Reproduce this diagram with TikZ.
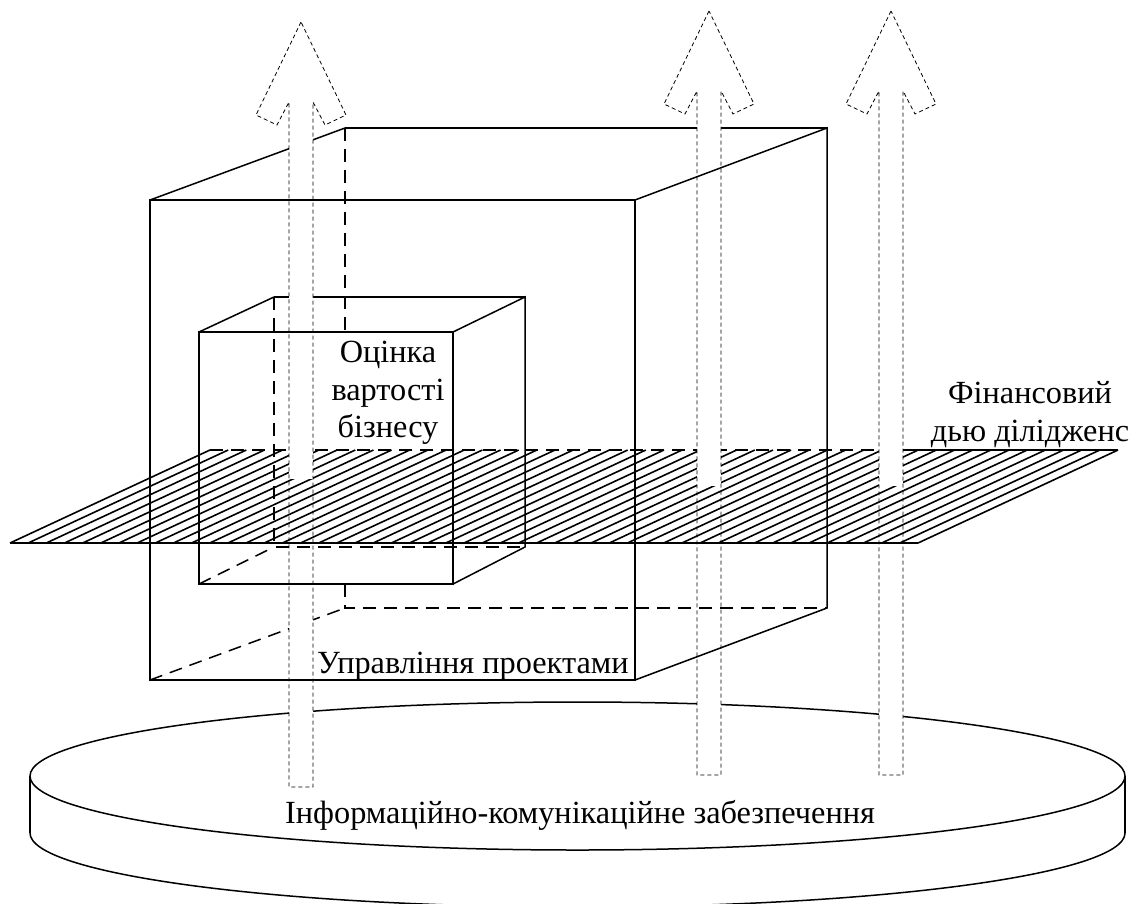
\documentclass[tikz,border=0pt]{standalone}
\usepackage{fontspec}
\setmainfont{Liberation Serif}
\begin{document}
\begin{tikzpicture}[x=1pt,y=-1pt,
  edge/.style={line width=1.5pt, line cap=butt},
  hidden/.style={line width=1.5pt, dash pattern=on 13pt off 8pt},
  hatchline/.style={line width=1.6pt},
  arrowline/.style={line width=0.8pt, dash pattern=on 4pt off 3pt},
  lbl/.style={font=\fontsize{32.3}{38}\selectfont, inner sep=0pt}]
\useasboundingbox (0,0) rectangle (1132,903);
% ---- disk (information & communication support)
\begin{scope}
  \clip (0,0) rectangle (1132,903);
  \draw[edge] (577.5,776) ellipse [x radius=547.5, y radius=74];
  \draw[edge] (30,776) -- (30,833);
  \draw[edge] (1125,776) -- (1125,833);
  \draw[edge] (30,833) arc[start angle=180, end angle=0, x radius=547.5, y radius=74];
\end{scope}
% ---- lines lying behind the arrows
\draw[edge] (345,128) -- (827,128);
\draw[edge] (150,200) -- (345,128);
\draw[edge] (274,297) -- (525,297);
\draw[hidden] (150,680) -- (345,608);
% ---- arrow bodies (white)
\foreach \tx/\ty/\by in {301/22/787, 709/11/775, 891/11/775}{
  \fill[white] (\tx,\ty) -- ({\tx-45},{\ty+93}) -- ({\tx-24},{\ty+103}) -- ({\tx-12},{\ty+80})
     -- ({\tx-12},\by) -- ({\tx+12},\by) -- ({\tx+12},{\ty+80}) -- ({\tx+24},{\ty+103})
     -- ({\tx+45},{\ty+93}) -- cycle;
}
% ---- hatched plane
\foreach \k in {0,...,50}{
  \draw[hatchline] ({10+18.16*\k},543) -- ({210+18.16*\k},450);
}
\draw[edge] (10,543) -- (918,543);
\draw[hidden] (210,450) -- (879,450);
\draw[edge] (903,450) -- (1118,450);
% arrows pierce the plane
\fill[white] (289,448) rectangle (313,479);
\fill[white] (697,448) rectangle (721,486);
\fill[white] (879,448) rectangle (903,486);
% ---- large box
\draw[edge] (150,200) rectangle (635,680);
\draw[edge] (635,200) -- (827,128) -- (827,608) -- (635,680);
\draw[hidden] (345,128) -- (345,332);
\draw[hidden] (345,584) -- (345,608) -- (827,608);
% ---- small box
\draw[edge] (199,332) rectangle (453,584);
\draw[edge] (199,332) -- (274,297);
\draw[edge] (453,332) -- (525,297) -- (525,547) -- (453,584);
\draw[hidden] (274,297) -- (274,547) -- (525,547);
\draw[hidden] (199,584) -- (274,547);
% ---- arrow outlines
\foreach \tx/\ty/\by in {301/22/787, 709/11/775, 891/11/775}{
  \draw[arrowline] (\tx,\ty) -- ({\tx-45},{\ty+93}) -- ({\tx-24},{\ty+103}) -- ({\tx-12},{\ty+80})
     -- ({\tx-12},\by) -- ({\tx+12},\by) -- ({\tx+12},{\ty+80}) -- ({\tx+24},{\ty+103})
     -- ({\tx+45},{\ty+93}) -- cycle;
}
% ---- labels
\node[lbl, anchor=base] (o1) at (388,362) {Оцінка};
\node[lbl, anchor=base] (o2) at (388,400) {вартості};
\node[lbl, anchor=base] (o3) at (388,437) {бізнесу};
\node[lbl, anchor=base] (f1) at (1030,403) {Фінансовий};
\node[lbl, anchor=base] (f2) at (1030,441) {дью ділідженс};
\node[lbl, anchor=base west] (pm) at (317,673) {Управління проектами};
\node[lbl, anchor=base west] (ik) at (285,823) {Інформаційно-комунікаційне забезпечення};
\end{tikzpicture}
\end{document}
